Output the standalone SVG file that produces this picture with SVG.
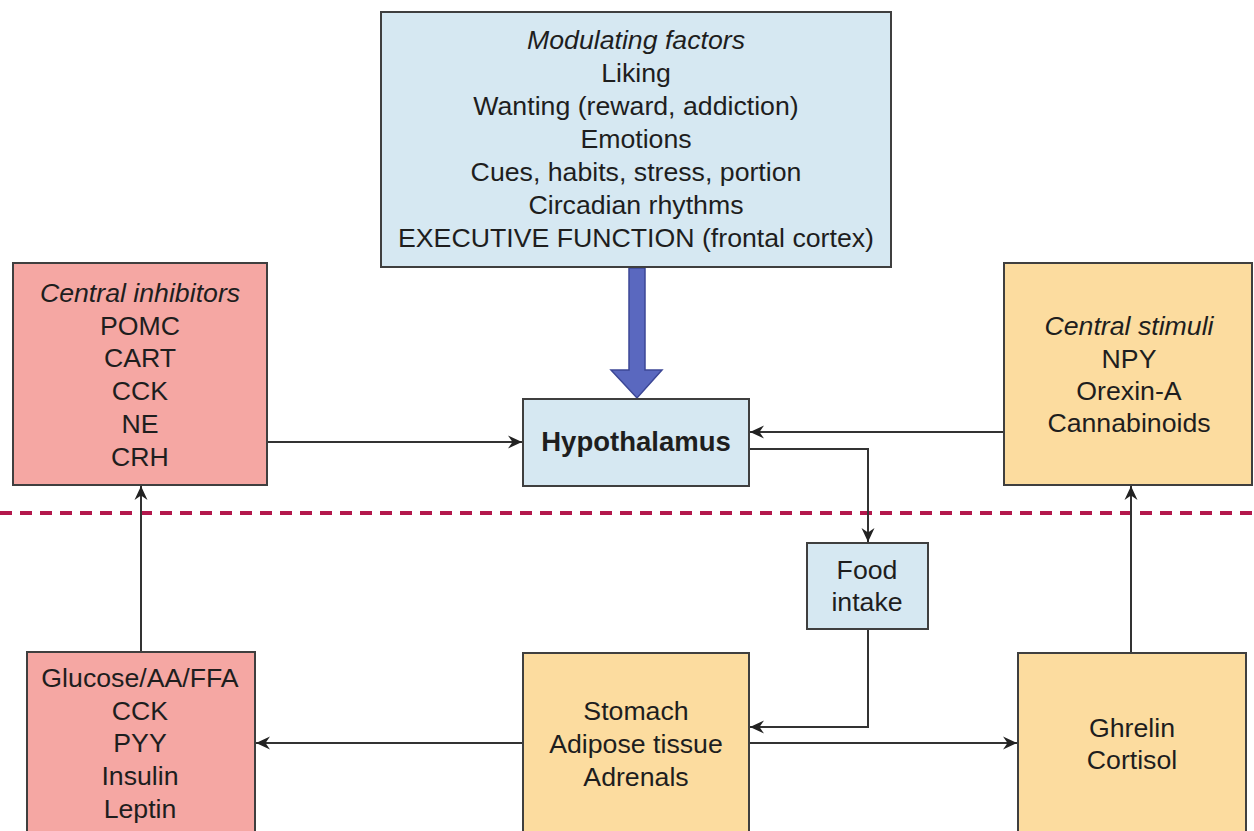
<svg xmlns="http://www.w3.org/2000/svg" width="1254" height="831" viewBox="0 0 1254 831">
  <style>
    .box { stroke: #3f3f3f; stroke-width: 2; }
    .blue { fill: #d6e8f2; }
    .pink { fill: #f5a7a3; }
    .yellow { fill: #fcdc9f; }
    .t { font-family: "Liberation Sans", Arial, Helvetica, sans-serif; font-size: 26.7px; fill: #1e1e1e; text-anchor: middle; }
    .it { font-style: italic; }
    .b { font-weight: bold; font-size: 27.5px; }
    .wire { fill: none; stroke: #333; stroke-width: 2; }
  </style>
  <defs>
    <marker id="head" markerUnits="userSpaceOnUse" markerWidth="16" markerHeight="16" refX="14" refY="8" orient="auto">
      <path d="M0,1.5 L14,8 L0,14.5 L4.5,8 z" fill="#222"/>
    </marker>
  </defs>
  <rect width="1254" height="831" fill="#ffffff"/>

  <!-- boundary line -->
  <line x1="0" y1="513" x2="1254" y2="513" stroke="#b3174c" stroke-width="4" stroke-dasharray="12 8"/>

  <g id="connectors">
    <!-- modulating factors to hypothalamus -->
    <path d="M629,268 L645,268 L645,370 L662,370 L637,398 L611,370 L629,370 z" fill="#5a68bf" stroke="#3c4796" stroke-width="1.5"/>
    <line class="wire" x1="267" y1="442" x2="522" y2="442" marker-end="url(#head)"/>
    <line class="wire" x1="1004" y1="432" x2="750" y2="432" marker-end="url(#head)"/>
    <polyline class="wire" points="749,449 868,449 868,542" marker-end="url(#head)"/>
    <polyline class="wire" points="868,629 868,727 750,727" marker-end="url(#head)"/>
    <line class="wire" x1="523" y1="743" x2="256" y2="743" marker-end="url(#head)"/>
    <line class="wire" x1="749" y1="743" x2="1017" y2="743" marker-end="url(#head)"/>
    <line class="wire" x1="141" y1="652" x2="141" y2="486" marker-end="url(#head)"/>
    <line class="wire" x1="1131" y1="653" x2="1131" y2="486" marker-end="url(#head)"/>
  </g>

  <g id="modulating">
    <rect class="box blue" x="381" y="12" width="510" height="255"/>
    <text class="t it" x="636" y="49">Modulating factors</text>
    <text class="t" x="636" y="82">Liking</text>
    <text class="t" x="636" y="115">Wanting (reward, addiction)</text>
    <text class="t" x="636" y="148">Emotions</text>
    <text class="t" x="636" y="181">Cues, habits, stress, portion</text>
    <text class="t" x="636" y="214">Circadian rhythms</text>
    <text class="t" x="636" y="247">EXECUTIVE FUNCTION (frontal cortex)</text>
  </g>

  <g id="central-inhibitors">
    <rect class="box pink" x="13" y="263" width="254" height="222"/>
    <text class="t it" x="140" y="302">Central inhibitors</text>
    <text class="t" x="140" y="335">POMC</text>
    <text class="t" x="140" y="367">CART</text>
    <text class="t" x="140" y="400">CCK</text>
    <text class="t" x="140" y="433">NE</text>
    <text class="t" x="140" y="466">CRH</text>
  </g>

  <g id="hypothalamus">
    <rect class="box blue" x="523" y="399" width="226" height="87"/>
    <text class="t b" x="636" y="451">Hypothalamus</text>
  </g>

  <g id="central-stimuli">
    <rect class="box yellow" x="1004" y="263" width="248" height="222"/>
    <text class="t it" x="1129" y="335">Central stimuli</text>
    <text class="t" x="1129" y="368">NPY</text>
    <text class="t" x="1129" y="400">Orexin-A</text>
    <text class="t" x="1129" y="432">Cannabinoids</text>
  </g>

  <g id="food-intake">
    <rect class="box blue" x="807" y="543" width="121" height="86"/>
    <text class="t" x="867" y="579">Food</text>
    <text class="t" x="867" y="611">intake</text>
  </g>

  <g id="peripheral-inhibitors">
    <rect class="box pink" x="27" y="652" width="228" height="190"/>
    <text class="t" x="140" y="687">Glucose/AA/FFA</text>
    <text class="t" x="140" y="720">CCK</text>
    <text class="t" x="140" y="752">PYY</text>
    <text class="t" x="140" y="785">Insulin</text>
    <text class="t" x="140" y="818">Leptin</text>
  </g>

  <g id="organs">
    <rect class="box yellow" x="523" y="653" width="226" height="190"/>
    <text class="t" x="636" y="720">Stomach</text>
    <text class="t" x="636" y="753">Adipose tissue</text>
    <text class="t" x="636" y="786">Adrenals</text>
  </g>

  <g id="peripheral-stimuli">
    <rect class="box yellow" x="1018" y="653" width="228" height="190"/>
    <text class="t" x="1132" y="737">Ghrelin</text>
    <text class="t" x="1132" y="769">Cortisol</text>
  </g>
</svg>
